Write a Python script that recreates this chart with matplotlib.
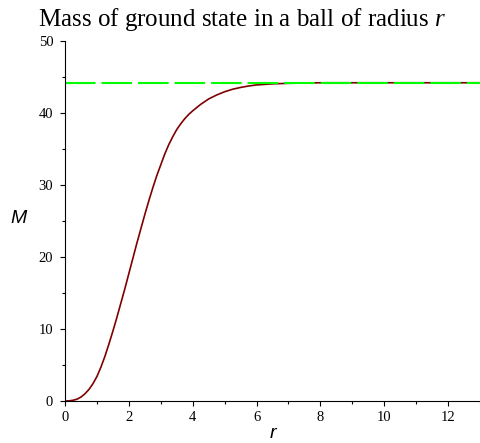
import matplotlib
matplotlib.use("Agg")
import matplotlib.pyplot as plt
from matplotlib.ticker import MultipleLocator

# values
r_vals = [0, 0.125, 0.25, 0.375, 0.5, 0.625, 0.75, 0.875,
          1.0, 1.125, 1.25, 1.375, 1.5, 1.625, 1.75, 1.875,
          2.0, 2.125, 2.25, 2.375, 2.5, 2.625, 2.75, 2.875,
          3.0, 3.125, 3.25, 3.375, 3.5, 3.625, 3.75, 3.875,
          4.0, 4.25, 4.5, 4.75, 5.0, 5.25, 5.5, 5.75, 6.0,
          6.5, 7.0, 7.5, 8.0, 9.0, 10.0, 11.0, 12.0, 13.0]
mass_vals = [0, 0.02, 0.1, 0.25, 0.55, 1.0, 1.6, 2.4,
             3.4, 4.7, 6.2, 7.9, 9.7, 11.6, 13.6, 15.6,
             17.7, 19.8, 21.9, 23.9, 25.9, 27.8, 29.6, 31.3,
             32.8, 34.3, 35.6, 36.7, 37.7, 38.5, 39.2, 39.8,
             40.3, 41.2, 41.95, 42.5, 42.95, 43.3, 43.55, 43.75, 43.9,
             44.05, 44.12, 44.17, 44.2, 44.2, 44.2, 44.2, 44.2, 44.2]
total_mass = 44.2

title = "Mass of ground state in a ball of radius $\\mathit{r}$"
x_ticks = [0, 2, 4, 6, 8, 10, 12]
y_ticks = [0, 10, 20, 30, 40, 50]

plt.rcParams["mathtext.fontset"] = "custom"
plt.rcParams["mathtext.rm"] = "Liberation Serif"
plt.rcParams["mathtext.it"] = "Liberation Serif:italic"
plt.rcParams["lines.scale_dashes"] = False

fig = plt.figure(figsize=(4.81, 4.43), dpi=100)
ax = fig.add_axes([65 / 481, 42 / 443, 415 / 481, 360 / 443])

ax.plot(r_vals, mass_vals, color="#7f0000", lw=1.2, solid_joinstyle="round")
ax.plot([0, 13], [total_mass, total_mass], color="#00ff00", lw=1.5,
        dashes=(22, 4.3))

ax.set_xlim(0, 13)
ax.set_ylim(0, 50)
ax.set_xticks(x_ticks)
ax.set_yticks(y_ticks)
ax.xaxis.set_minor_locator(MultipleLocator(1))
ax.yaxis.set_minor_locator(MultipleLocator(5))

for s in ("top", "right"):
    ax.spines[s].set_visible(False)
for s in ("left", "bottom"):
    ax.spines[s].set_linewidth(0.8)

ax.tick_params(which="major", direction="out", length=3.5, width=0.8)
ax.tick_params(which="minor", direction="out", length=2.2, width=0.8)
ax.tick_params(axis="x", which="major", pad=3.5)
ax.tick_params(axis="y", which="major", pad=5)
for lab in ax.get_xticklabels() + ax.get_yticklabels():
    lab.set_fontfamily("Liberation Serif")
    lab.set_fontsize(10.5)

ax.set_xlabel("r", fontfamily="Liberation Sans", style="italic", fontsize=14,
              va="bottom")
ax.set_ylabel("M", fontfamily="Liberation Sans", style="italic", fontsize=14,
              rotation=0, va="center", ha="center")
ax.xaxis.set_label_coords(0.5, -0.113)
ax.yaxis.set_label_coords(-0.113, 0.508)

fig.text(0.503, 0.955, title, ha="center", va="center",
         fontfamily="Liberation Serif", fontsize=18)

fig.savefig("out.png", dpi=100)
